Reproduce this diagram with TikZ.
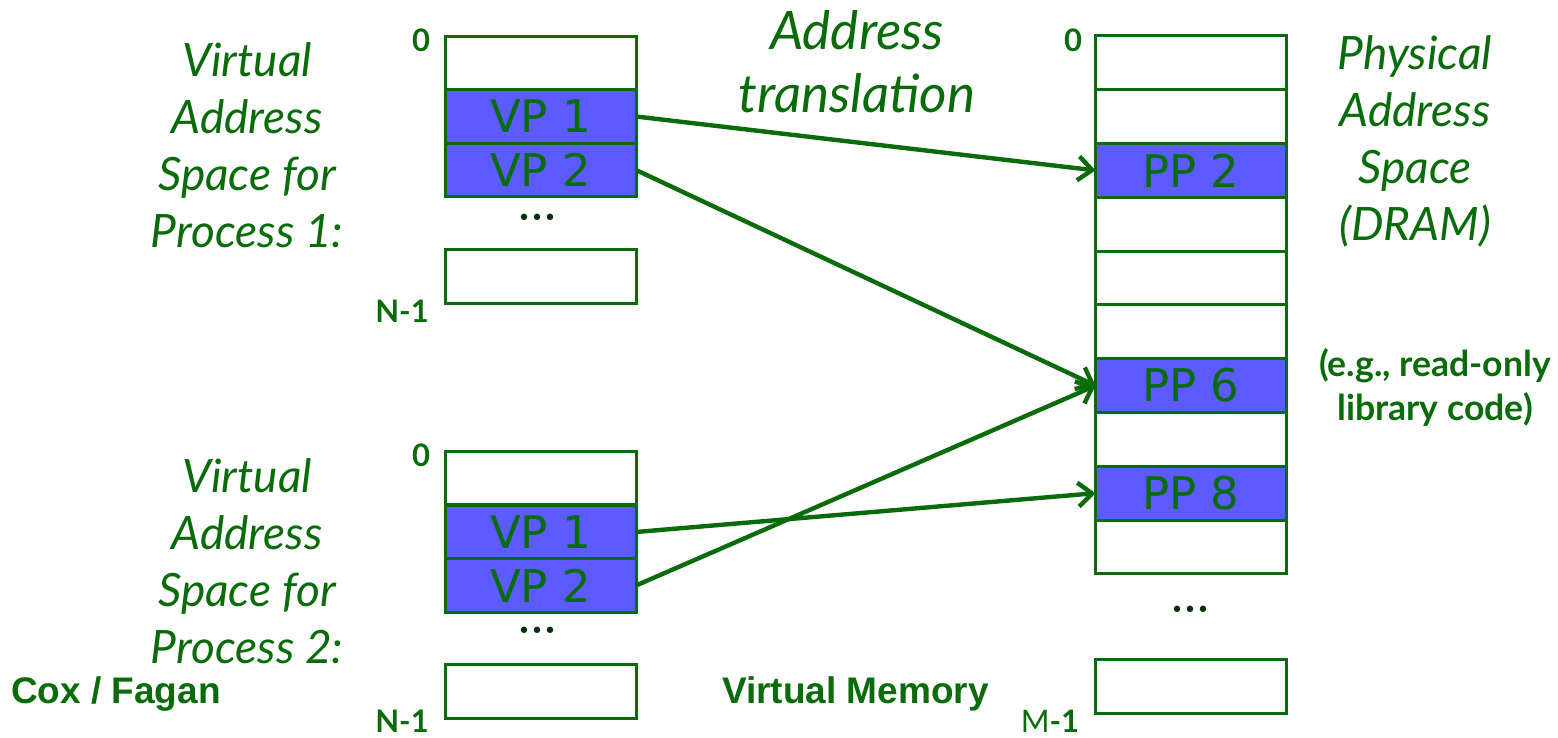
\documentclass[tikz,border=0pt]{standalone}
\usepackage{fontspec}
\setmainfont{Lato}
\newfontfamily\vpfont{DejaVu Sans}
\newfontfamily\arialfont{Liberation Sans}
\usetikzlibrary{arrows.meta}
\definecolor{g}{HTML}{0A6B0A}
\definecolor{bfill}{HTML}{5B5BFF}
\tikzset{
  cell/.style={draw=g, line width=1.5pt, minimum width=95.5pt, minimum height=26.9pt, inner sep=0pt, outer sep=0pt, fill=white},
  pcell/.style={cell, fill=bfill, text=g, font=\vpfont\fontsize{22.5}{26}\selectfont},
  ital/.style={text=g, font=\itshape\fontsize{23}{28.5}\selectfont, align=center},
  idx/.style={text=g, font=\bfseries\fontsize{15.5}{17}\selectfont},
  dots/.style={text=g!45!black, font=\vpfont\fontsize{11}{13}\selectfont, anchor=base, inner sep=0pt},
  foot/.style={text=g, font=\arialfont\bfseries\fontsize{18.5}{22}\selectfont, anchor=west},
  conn/.style={draw=g, line width=2.2pt, -{Straight Barb[length=7pt,width=12pt,line width=2.2pt]}}
}
\begin{document}
\begin{tikzpicture}[x=0.5pt,y=-0.5pt]
\useasboundingbox (0,0) rectangle (1558,738);
% Process 1
\node[cell] (a0) at (540.5,63) {};
\node[pcell] (a1) at (540.5,116.5) {VP 1};
\node[pcell] (a2) at (540.5,170) {VP 2};
\node[dots] (ad) at (537,225) {•••};
\node[cell] (an) at (540.5,276.5) {};
\node[idx] (a0l) at (421,40) {0};
\node[idx] (anl) at (402,311) {N-1};
% Process 2
\node[cell] (b0) at (540.5,478) {};
\node[pcell] (b1) at (540.5,532) {VP 1};
\node[pcell] (b2) at (540.5,585.5) {VP 2};
\node[dots] (bd) at (537,638) {•••};
\node[cell] (bn) at (540.5,691.5) {};
\node[idx] (b0l) at (421,455) {0};
\node[idx] (bnl) at (402,721) {N-1};
% Physical
\node[cell] (p0) at (1191,62.8) {};
\node[cell] (p1) at (1191,116.6) {};
\node[pcell] (p2) at (1191,170.4) {PP 2};
\node[cell] (p3) at (1191,224.2) {};
\node[cell] (p4) at (1191,278) {};
\node[cell] (p5) at (1191,331.8) {};
\node[pcell] (p6) at (1191,385.6) {PP 6};
\node[cell] (p7) at (1191,439.4) {};
\node[pcell] (p8) at (1191,493.2) {PP 8};
\node[cell] (p9) at (1191,547) {};
\node[dots] (pd) at (1190,617) {•••};
\node[cell] (pm) at (1191,686.5) {};
\node[idx] (p0l) at (1073,40) {0};
\node[text=g, font=\fontsize{15.5}{17}\selectfont] (pml) at (1050,721) {M\textbf{-1}};
% Labels
\node[ital] (t1) at (247,145) {Virtual\\Address\\Space for\\Process 1:};
\node[ital] (t2) at (247,561) {Virtual\\Address\\Space for\\Process 2:};
\node[ital, font=\itshape\fontsize{26.5}{31.5}\selectfont] (tr) at (857,62) {Address\\translation};
\node[ital] (ph) at (1415,141) {Physical\\Address\\Space\\(DRAM)};
\node[text=g, font=\bfseries\fontsize{17.8}{22}\selectfont, align=center] (eg) at (1435,388) {(e.g., read-only\\library code)};
\node[foot] (cf) at (4,694) {Cox / Fagan};
\node[foot] (vm) at (715,694) {Virtual Memory};
% Connectors
\draw[conn] (a1.east) -- (p2.west);
\draw[conn] (a2.east) -- (p6.west);
\draw[conn] (b1.east) -- (p8.west);
\draw[conn] (b2.east) -- (p6.west);
\end{tikzpicture}
\end{document}
